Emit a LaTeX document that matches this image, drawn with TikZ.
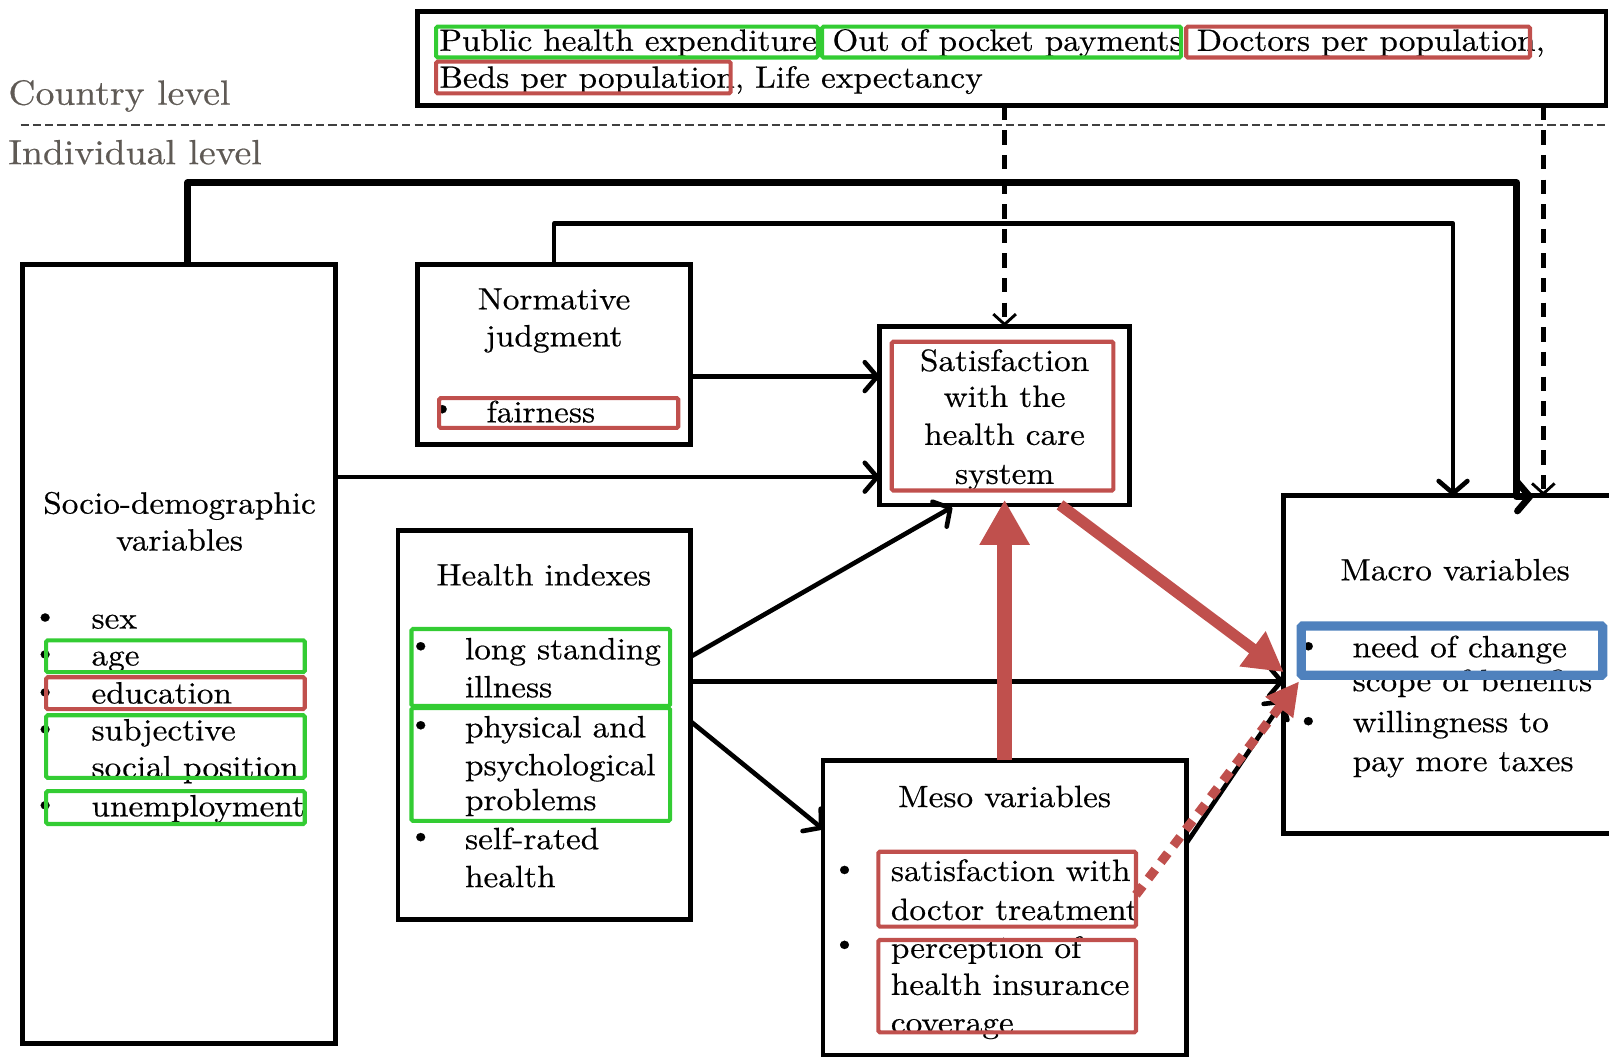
\documentclass[tikz,border=0pt]{standalone}
\usepackage{fontspec}
\setmainfont{lmroman10-regular.otf}[FakeStretch=1.08, FakeBold=0.5]
\usetikzlibrary{arrows.meta,calc}
\definecolor{hlred}{RGB}{192,80,77}
\definecolor{hlgreen}{RGB}{51,204,51}
\definecolor{hlblue}{RGB}{79,129,189}
\definecolor{lvlgray}{RGB}{95,90,85}
\begin{document}
\begin{tikzpicture}[x=1pt,y=-1pt,
  box/.style={draw, line width=4.5pt, inner sep=0, outer sep=0, anchor=north west},
  hl/.style={draw, line width=4pt, rounded corners=1.5pt, inner sep=0, outer sep=0, anchor=north west},
  hlg/.style={hl, hlgreen},
  hlr/.style={hl, hlred},
  txt/.style={font=\fontsize{30}{36}\selectfont, inner sep=0, text height=24pt, text depth=5pt},
  ltxt/.style={txt, anchor=west},
  lvl/.style={font=\fontsize{34}{40}\selectfont, text=lvlgray, inner sep=0, anchor=west, text height=26pt, text depth=4pt},
  bul/.style={font=\fontsize{28}{28}\selectfont, inner sep=0},
  arr/.style={line width=4.5pt, line join=round, -{Straight Barb[length=12pt,width=28pt,line cap=round,line join=round]}},
  arrthick/.style={arr, line width=6.5pt},
  dasharr/.style={line width=4.5pt, dash pattern=on 14pt off 10pt, -{Straight Barb[length=10pt,width=22pt,line width=2.8pt]}},
  redarr/.style={hlred, line width=14pt, -{Triangle[length=44pt,width=46pt]}},
  reddiag/.style={hlred, line width=11pt, -{Triangle[length=38pt,width=40pt]}},
  reddot/.style={hlred, line width=9pt, dash pattern=on 11pt off 9pt, -{Triangle[length=32pt,width=32pt]}}
]
\useasboundingbox (0,0) rectangle (1568,1032);

% level labels and separator
\node[lvl] (country) at (8,91) {Country level};
\node[lvl] (indiv) at (8,149) {Individual level};
\coordinate (sepL) at (20,122);
\coordinate (sepR) at (1568,122);
\draw[line width=1.5pt, black!75, dash pattern=on 8pt off 4pt] (sepL) -- (sepR);

% boxes
\node[box, minimum width=1158pt, minimum height=92pt] (top) at (407,11) {};
\node[box, minimum width=305pt, minimum height=759pt] (socio) at (22,258) {};
\node[box, minimum width=266pt, minimum height=175pt] (norm) at (407,258) {};
\node[box, minimum width=244pt, minimum height=174pt] (sat) at (857,318) {};
\node[box, minimum width=285pt, minimum height=379pt] (health) at (388,517) {};
\node[box, minimum width=354pt, minimum height=287pt] (meso) at (802,741) {};
\node[box, minimum width=400pt, minimum height=329pt] (macro) at (1251,483) {};

% top box text
\node[ltxt] (tpub) at (428,40) {Public health expenditure};
\node[ltxt] (toop) at (811,40) {Out of pocket payments};
\node[ltxt] (tdoc) at (1166,40) {Doctors per population,};
\node[ltxt] (tbeds) at (428,76) {Beds per population, Life expectancy};

% socio-demographic
\node[txt] (socT1) at (175,491) {Socio-demographic};
\node[txt] (socT2) at (175,527) {variables};
\foreach \n/\y in {sb1/603, sb2/639, sb3/676, sb4/712, sb5/786}
  \node[bul] (\n) at (44,\y) {\textbullet};
\node[ltxt] (s1) at (89,603) {sex};
\node[ltxt] (s2) at (89,639) {age};
\node[ltxt] (s3) at (89,676) {education};
\node[ltxt] (s4) at (89,712) {subjective};
\node[ltxt] (s5) at (89,748) {social position};
\node[ltxt] (s6) at (89,786) {unemployment};

% normative
\node[txt] (normT1) at (540,292) {Normative};
\node[txt] (normT2) at (540,328) {judgment};
\node[bul] (nb1) at (431,400) {\textbullet};
\node[ltxt] (n1) at (474,402) {fairness};

% satisfaction
\node[txt] (sat1) at (979,352) {Satisfaction};
\node[txt] (sat2) at (979,387) {with the};
\node[txt] (sat3) at (979,424) {health care};
\node[txt] (sat4) at (979,462) {system};

% health indexes
\node[txt] (hT) at (530,561) {Health indexes};
\foreach \n/\y in {hb1/631, hb2/708, hb3/817}
  \node[bul] (\n) at (410,\y) {\textbullet};
\node[ltxt] (h1) at (453,633) {long standing};
\node[ltxt] (h2) at (453,670) {illness};
\node[ltxt] (h3) at (453,709) {physical and};
\node[ltxt] (h4) at (453,746) {psychological};
\node[ltxt] (h5) at (453,780) {problems};
\node[ltxt] (h6) at (453,818) {self-rated};
\node[ltxt] (h7) at (453,855) {health};

% meso
\node[txt] (mT) at (979,777) {Meso variables};
\node[bul] (mb1) at (823,849) {\textbullet};
\node[bul] (mb2) at (823,922) {\textbullet};
\node[ltxt] (m1) at (868,849) {satisfaction with};
\node[ltxt] (m2) at (868,887) {doctor treatment};
\node[ltxt] (m3) at (868,924) {perception of};
\node[ltxt] (m4) at (868,960) {health insurance};
\node[ltxt] (m5) at (868,997) {coverage};

% macro
\node[txt] (maT) at (1418,556) {Macro variables};
\node[bul] (mab1) at (1275,631) {\textbullet};
\node[bul] (mab2) at (1275,704) {\textbullet};
\node[ltxt] (ma1) at (1318,631) {need of change};
\node[ltxt] (ma2) at (1318,664) {scope of benefits};
\node[ltxt] (ma3) at (1318,704) {willingness to};
\node[ltxt] (ma4) at (1318,742) {pay more taxes};

% highlight frames
\node[hlg, minimum width=372pt, minimum height=30pt] (fpub) at (425,26) {};
\node[hlg, minimum width=350pt, minimum height=30pt] (foop) at (801,26) {};
\node[hlr, minimum width=335pt, minimum height=30pt] (fdoc) at (1156,26) {};
\node[hlr, minimum width=287pt, minimum height=31pt] (fbeds) at (425,60) {};
\node[hlg, minimum width=252pt, minimum height=31pt] (fage) at (45,624) {};
\node[hlr, minimum width=252pt, minimum height=31pt] (fedu) at (45,660) {};
\node[hlg, minimum width=252pt, minimum height=61pt] (fsubj) at (45,697) {};
\node[hlg, minimum width=252pt, minimum height=32pt] (funemp) at (45,771) {};
\node[hlr, minimum width=233pt, minimum height=29pt] (ffair) at (428,388) {};
\node[hlr, minimum width=216pt, minimum height=145pt] (fsat) at (869,333) {};
\node[hlg, minimum width=252pt, minimum height=75pt] (flong) at (401,613) {};
\node[hlg, minimum width=252pt, minimum height=110pt] (fphys) at (401,690) {};
\node[hlr, minimum width=251pt, minimum height=73pt] (fmsat) at (856,830) {};
\node[hlr, minimum width=251pt, minimum height=90pt] (fperc) at (856,916) {};
\node[hl, hlblue, line width=9pt, minimum width=294pt, minimum height=48pt] (fneed) at (1268,610) {};

% helper coordinates
\coordinate (c1) at (183,178);
\coordinate (c2) at (1478,178);
\coordinate (c3) at (1494,484);
\coordinate (c4) at (540,218);
\coordinate (c5) at (1416,218);
\coordinate (v1504) at (1504,0);
\coordinate (h367) at (0,367);
\coordinate (h465) at (0,465);
\coordinate (h640) at (0,640);
\coordinate (v928) at (928,0);
\coordinate (h664) at (0,664);
\coordinate (h703) at (0,703);
\coordinate (h808) at (0,808);
\coordinate (h822) at (0,822);
\coordinate (h682) at (0,682);
\coordinate (h872) at (0,872);
\coordinate (dotEnd) at (1266,664);
\coordinate (v1033) at (1033,0);
\coordinate (h655) at (0,655);

% connectors
\draw[arrthick] ([xshift=8.5pt]socio.north) -- (c1) -- (c2) |- (c3);
\draw[arr] (norm.north) |- (c5) -- (macro.north -| c5);
\draw[dasharr] (top.south -| sat.north) -- (sat.north);
\draw[dasharr] (top.south -| v1504) -- (macro.north -| v1504);
\draw[arr] (norm.east |- h367) -- (sat.west |- h367);
\draw[arr] (socio.east |- h465) -- (sat.west |- h465);
\draw[arr] (health.east |- h640) -- ([yshift=-2pt]sat.south -| v928);
\draw[arr] (health.east |- h664) -- (macro.west |- h664);
\draw[arr] (health.east |- h703) -- (meso.west |- h808);
\draw[arr] (meso.east |- h822) -- (macro.west |- h682);
\draw[reddot] (fmsat.east |- h872) -- (dotEnd);
\draw[redarr] (meso.north) -- ([yshift=5pt]sat.south);
\draw[reddiag] (sat.south -| v1033) -- (macro.west |- h655);
\end{tikzpicture}
\end{document}
